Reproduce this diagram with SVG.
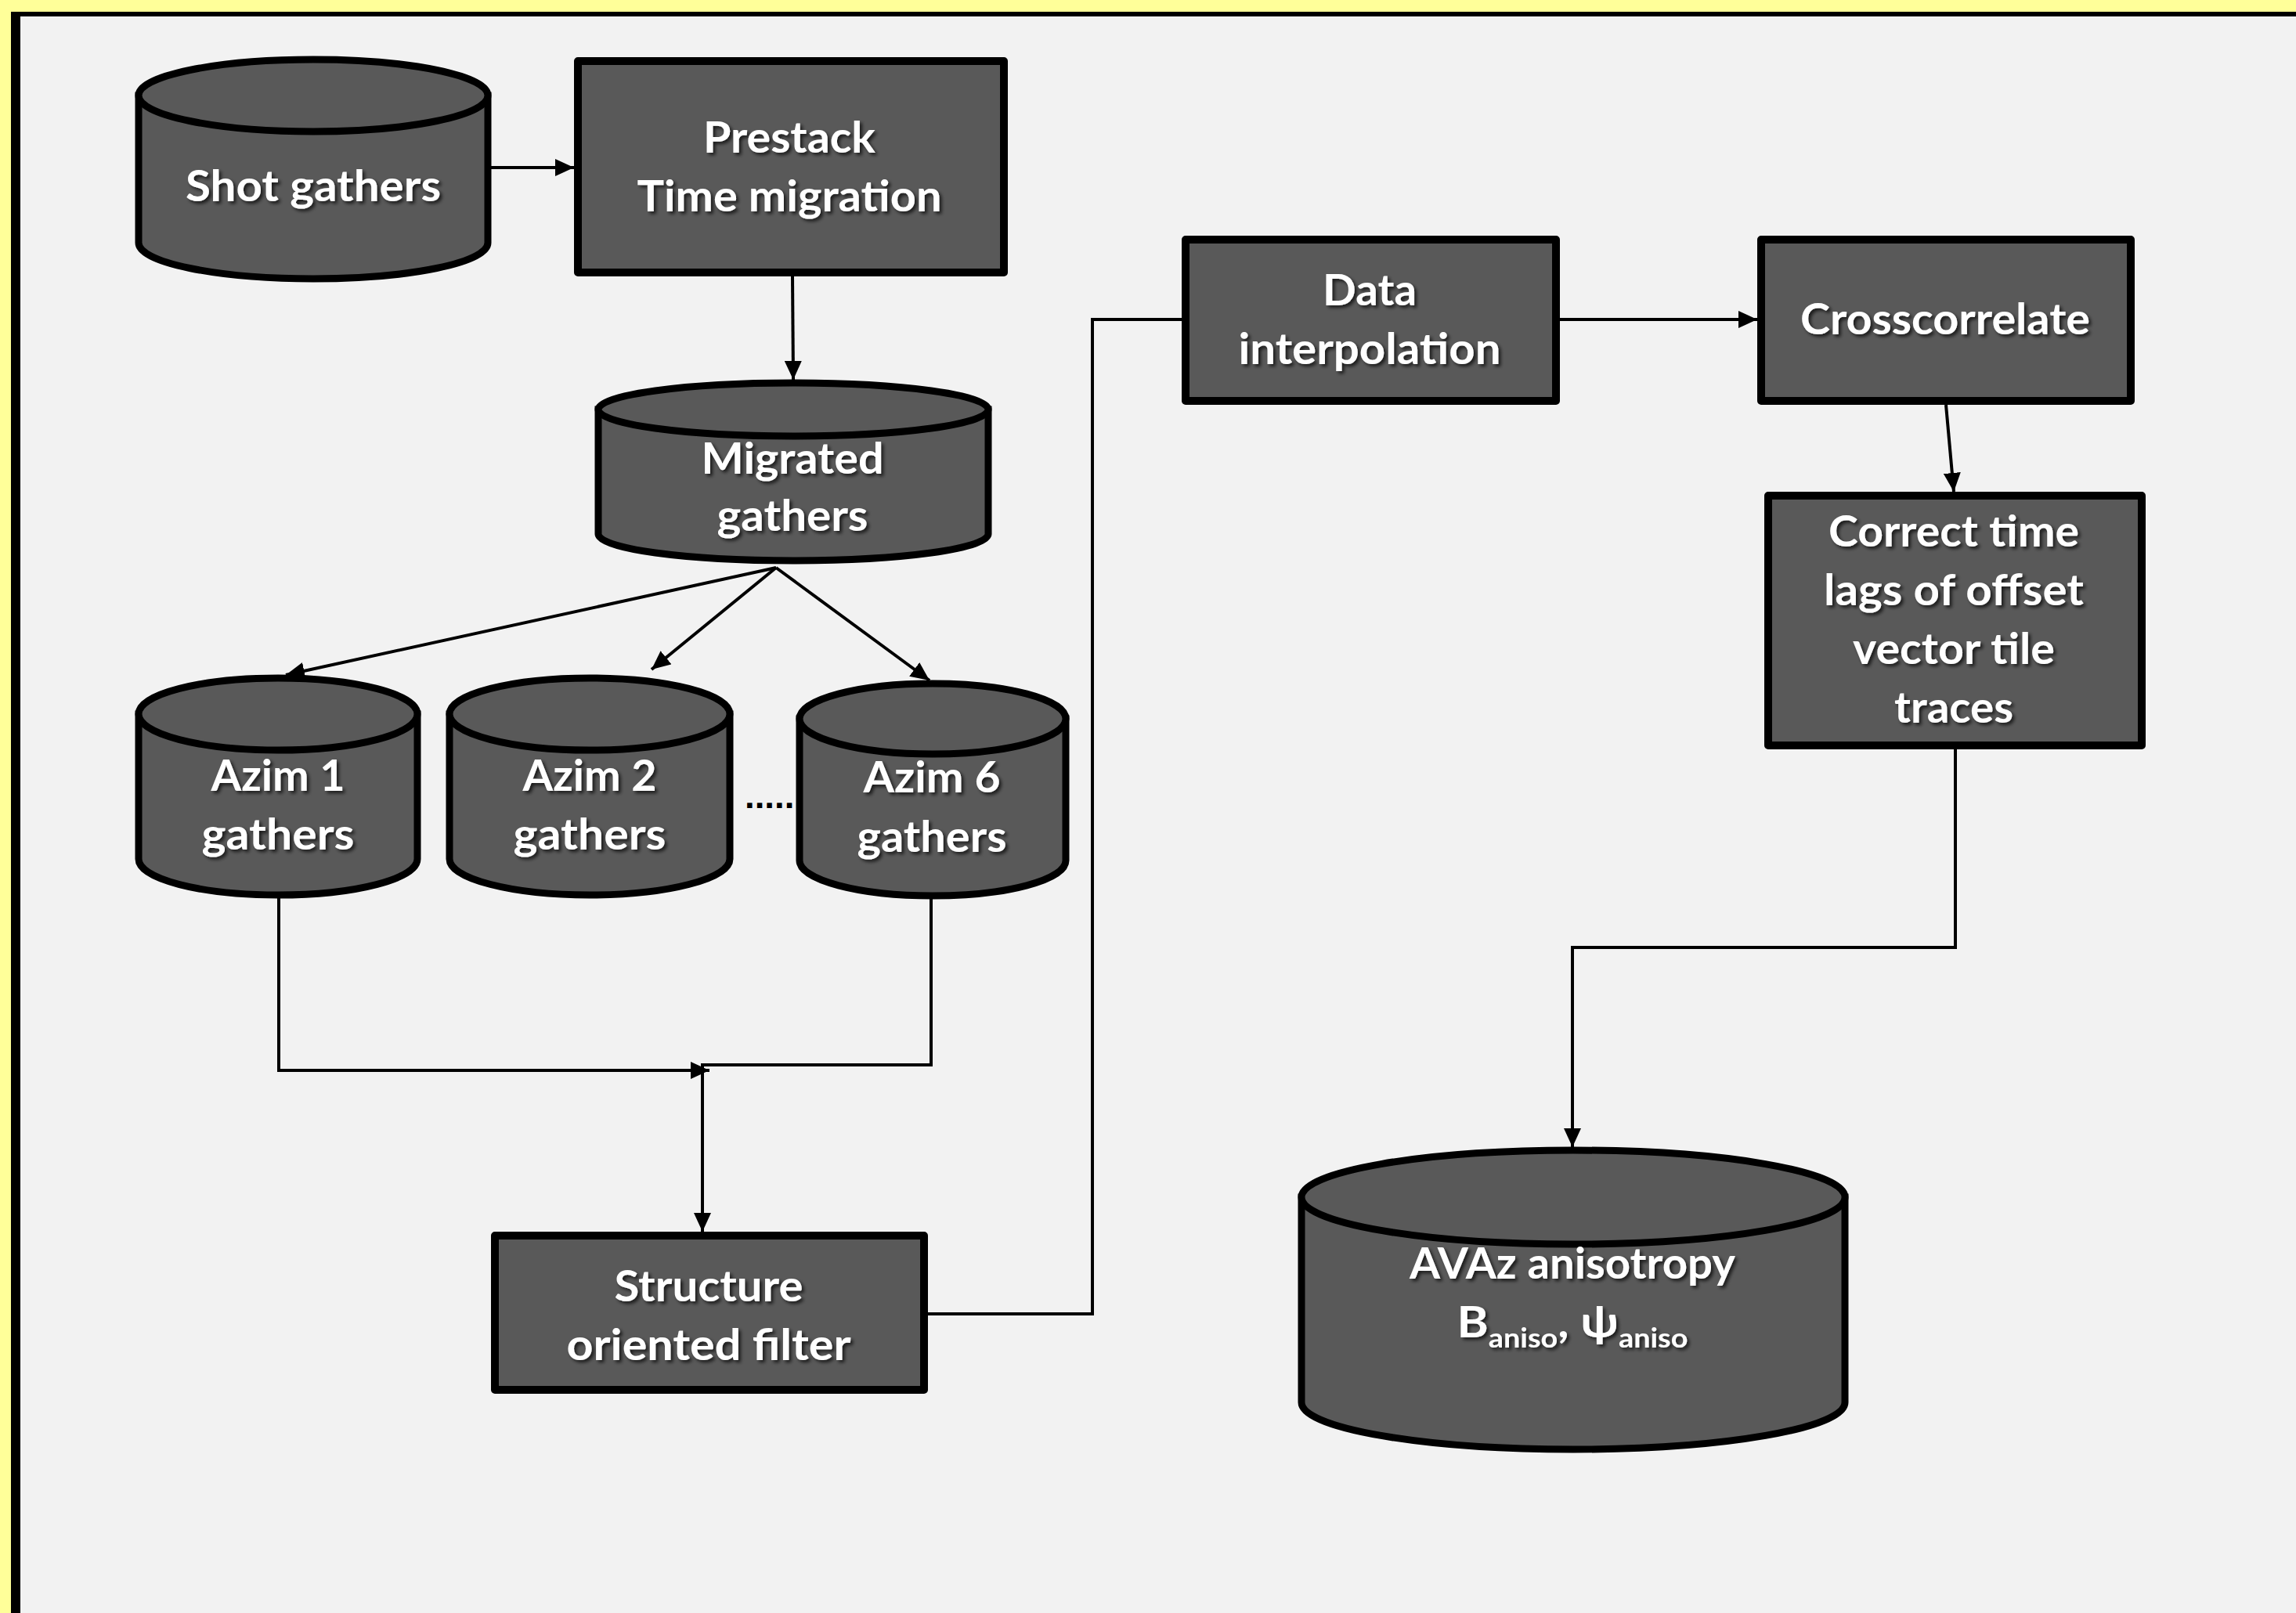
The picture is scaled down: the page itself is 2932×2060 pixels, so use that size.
<svg xmlns="http://www.w3.org/2000/svg" width="2932" height="2060" viewBox="0 0 2932 2060">
<defs>
<style>
.box{fill:#595959;stroke:#000;stroke-width:10;stroke-linejoin:round}
.cyl{fill:#595959;stroke:#000;stroke-width:9}
.lbl{font-family:Lato,"Liberation Sans",sans-serif;font-weight:bold;font-size:55px;fill:#fff;text-anchor:middle;filter:url(#sh)}
.con{fill:none;stroke:#000;stroke-width:4}
</style>
<filter id="sh" x="-10%" y="-30%" width="120%" height="160%">
<feDropShadow dx="3" dy="3" stdDeviation="2" flood-color="#000" flood-opacity="0.7"/>
</filter>
<marker id="arr" markerUnits="userSpaceOnUse" markerWidth="26" markerHeight="22" refX="24" refY="11" orient="auto">
<path d="M0,0 L24,11 L0,22 Z" fill="#000"/>
</marker>
</defs>
<rect x="0" y="0" width="2932" height="2060" fill="#FFFF99"/>
<rect x="14" y="15" width="2918" height="2045" fill="#000"/>
<rect x="26" y="21" width="2906" height="2039" fill="#F2F2F2"/>

<g id="connectors">
<path class="con" d="M627,214 L733,214" marker-end="url(#arr)"/>
<path class="con" d="M1012,353 L1013,485" marker-end="url(#arr)"/>
<path class="con" d="M991,725 L365,862" marker-end="url(#arr)"/>
<path class="con" d="M991,725 L832,855" marker-end="url(#arr)"/>
<path class="con" d="M991,725 L1187,869" marker-end="url(#arr)"/>
<path class="con" d="M356,1147 V1367 H906" marker-end="url(#arr)"/>
<path class="con" d="M1189,1148 V1360 H897 V1573" marker-end="url(#arr)"/>
<path class="con" d="M1185,1678 H1395 V408 H1509"/>
<path class="con" d="M1992,408 H2244" marker-end="url(#arr)"/>
<path class="con" d="M2485,517 L2495,628" marker-end="url(#arr)"/>
<path class="con" d="M2497,957 V1210 H2008 V1465" marker-end="url(#arr)"/>
</g>

<g id="shot-gathers">
<path class="cyl" d="M177,122 V310 A223,46 0 0 0 623,310 V122 Z"/>
<ellipse class="cyl" cx="400" cy="122" rx="223" ry="46"/>
<text class="lbl" x="400" y="257" textLength="326" lengthAdjust="spacingAndGlyphs">Shot gathers</text>
</g>

<g id="prestack">
<rect class="box" x="738" y="78" width="544" height="270"/>
<text class="lbl" x="1008" y="195" textLength="220" lengthAdjust="spacingAndGlyphs">Prestack</text>
<text class="lbl" x="1008" y="270" textLength="389" lengthAdjust="spacingAndGlyphs">Time migration</text>
</g>

<g id="migrated-gathers">
<path class="cyl" d="M764,523 V682 A249,34 0 0 0 1262,682 V523 Z"/>
<ellipse class="cyl" cx="1013" cy="523" rx="249" ry="34"/>
<text class="lbl" x="1012" y="605" textLength="233" lengthAdjust="spacingAndGlyphs">Migrated</text>
<text class="lbl" x="1012" y="678" textLength="193" lengthAdjust="spacingAndGlyphs">gathers</text>
</g>

<g id="azim1">
<path class="cyl" d="M177,912 V1097 A178,46 0 0 0 533,1097 V912 Z"/>
<ellipse class="cyl" cx="355" cy="912" rx="178" ry="46"/>
<text class="lbl" x="355" y="1010" textLength="171" lengthAdjust="spacingAndGlyphs">Azim 1</text>
<text class="lbl" x="355" y="1085" textLength="195" lengthAdjust="spacingAndGlyphs">gathers</text>
</g>

<g id="azim2">
<path class="cyl" d="M574,912 V1097 A179,46 0 0 0 932,1097 V912 Z"/>
<ellipse class="cyl" cx="753" cy="912" rx="179" ry="46"/>
<text class="lbl" x="753" y="1010" textLength="171" lengthAdjust="spacingAndGlyphs">Azim 2</text>
<text class="lbl" x="753" y="1085" textLength="195" lengthAdjust="spacingAndGlyphs">gathers</text>
</g>

<g id="dots">
<text x="989" y="1032" font-family="Liberation Sans, sans-serif" font-size="44" font-weight="bold" fill="#000" text-anchor="middle" textLength="76" lengthAdjust="spacingAndGlyphs">......</text>
</g>

<g id="azim6">
<path class="cyl" d="M1021,918 V1099 A170,45 0 0 0 1361,1099 V918 Z"/>
<ellipse class="cyl" cx="1191" cy="918" rx="170" ry="45"/>
<text class="lbl" x="1190" y="1012" textLength="175" lengthAdjust="spacingAndGlyphs">Azim 6</text>
<text class="lbl" x="1190" y="1088" textLength="191" lengthAdjust="spacingAndGlyphs">gathers</text>
</g>

<g id="sof">
<rect class="box" x="632" y="1578" width="548" height="197"/>
<text class="lbl" x="905" y="1662" textLength="241" lengthAdjust="spacingAndGlyphs">Structure</text>
<text class="lbl" x="905" y="1737" textLength="363" lengthAdjust="spacingAndGlyphs">oriented filter</text>
</g>

<g id="data-interpolation">
<rect class="box" x="1514" y="306" width="473" height="206"/>
<text class="lbl" x="1749" y="390" textLength="120" lengthAdjust="spacingAndGlyphs">Data</text>
<text class="lbl" x="1749" y="465" textLength="335" lengthAdjust="spacingAndGlyphs">interpolation</text>
</g>

<g id="crosscorrelate">
<rect class="box" x="2249" y="306" width="472" height="206"/>
<text class="lbl" x="2484" y="427" textLength="370" lengthAdjust="spacingAndGlyphs">Crosscorrelate</text>
</g>

<g id="correct-time-lags">
<rect class="box" x="2258" y="633" width="477" height="319"/>
<text class="lbl" x="2495" y="698" textLength="320" lengthAdjust="spacingAndGlyphs">Correct time</text>
<text class="lbl" x="2495" y="773" textLength="332" lengthAdjust="spacingAndGlyphs">lags of offset</text>
<text class="lbl" x="2495" y="848" textLength="258" lengthAdjust="spacingAndGlyphs">vector tile</text>
<text class="lbl" x="2495" y="923" textLength="152" lengthAdjust="spacingAndGlyphs">traces</text>
</g>

<g id="avaz">
<path class="cyl" d="M1662,1529 V1791 A347,60 0 0 0 2356,1791 V1529 Z"/>
<ellipse class="cyl" cx="2009" cy="1529" rx="347" ry="60"/>
<text class="lbl" x="2008" y="1633" font-size="48" textLength="416" lengthAdjust="spacingAndGlyphs">AVAz anisotropy</text>
<text class="lbl" x="2008" y="1708" font-size="50" textLength="295" lengthAdjust="spacingAndGlyphs">B<tspan font-size="34" dy="13">aniso</tspan><tspan dy="-13">, ψ</tspan><tspan font-size="34" dy="13">aniso</tspan></text>
</g>
</svg>
